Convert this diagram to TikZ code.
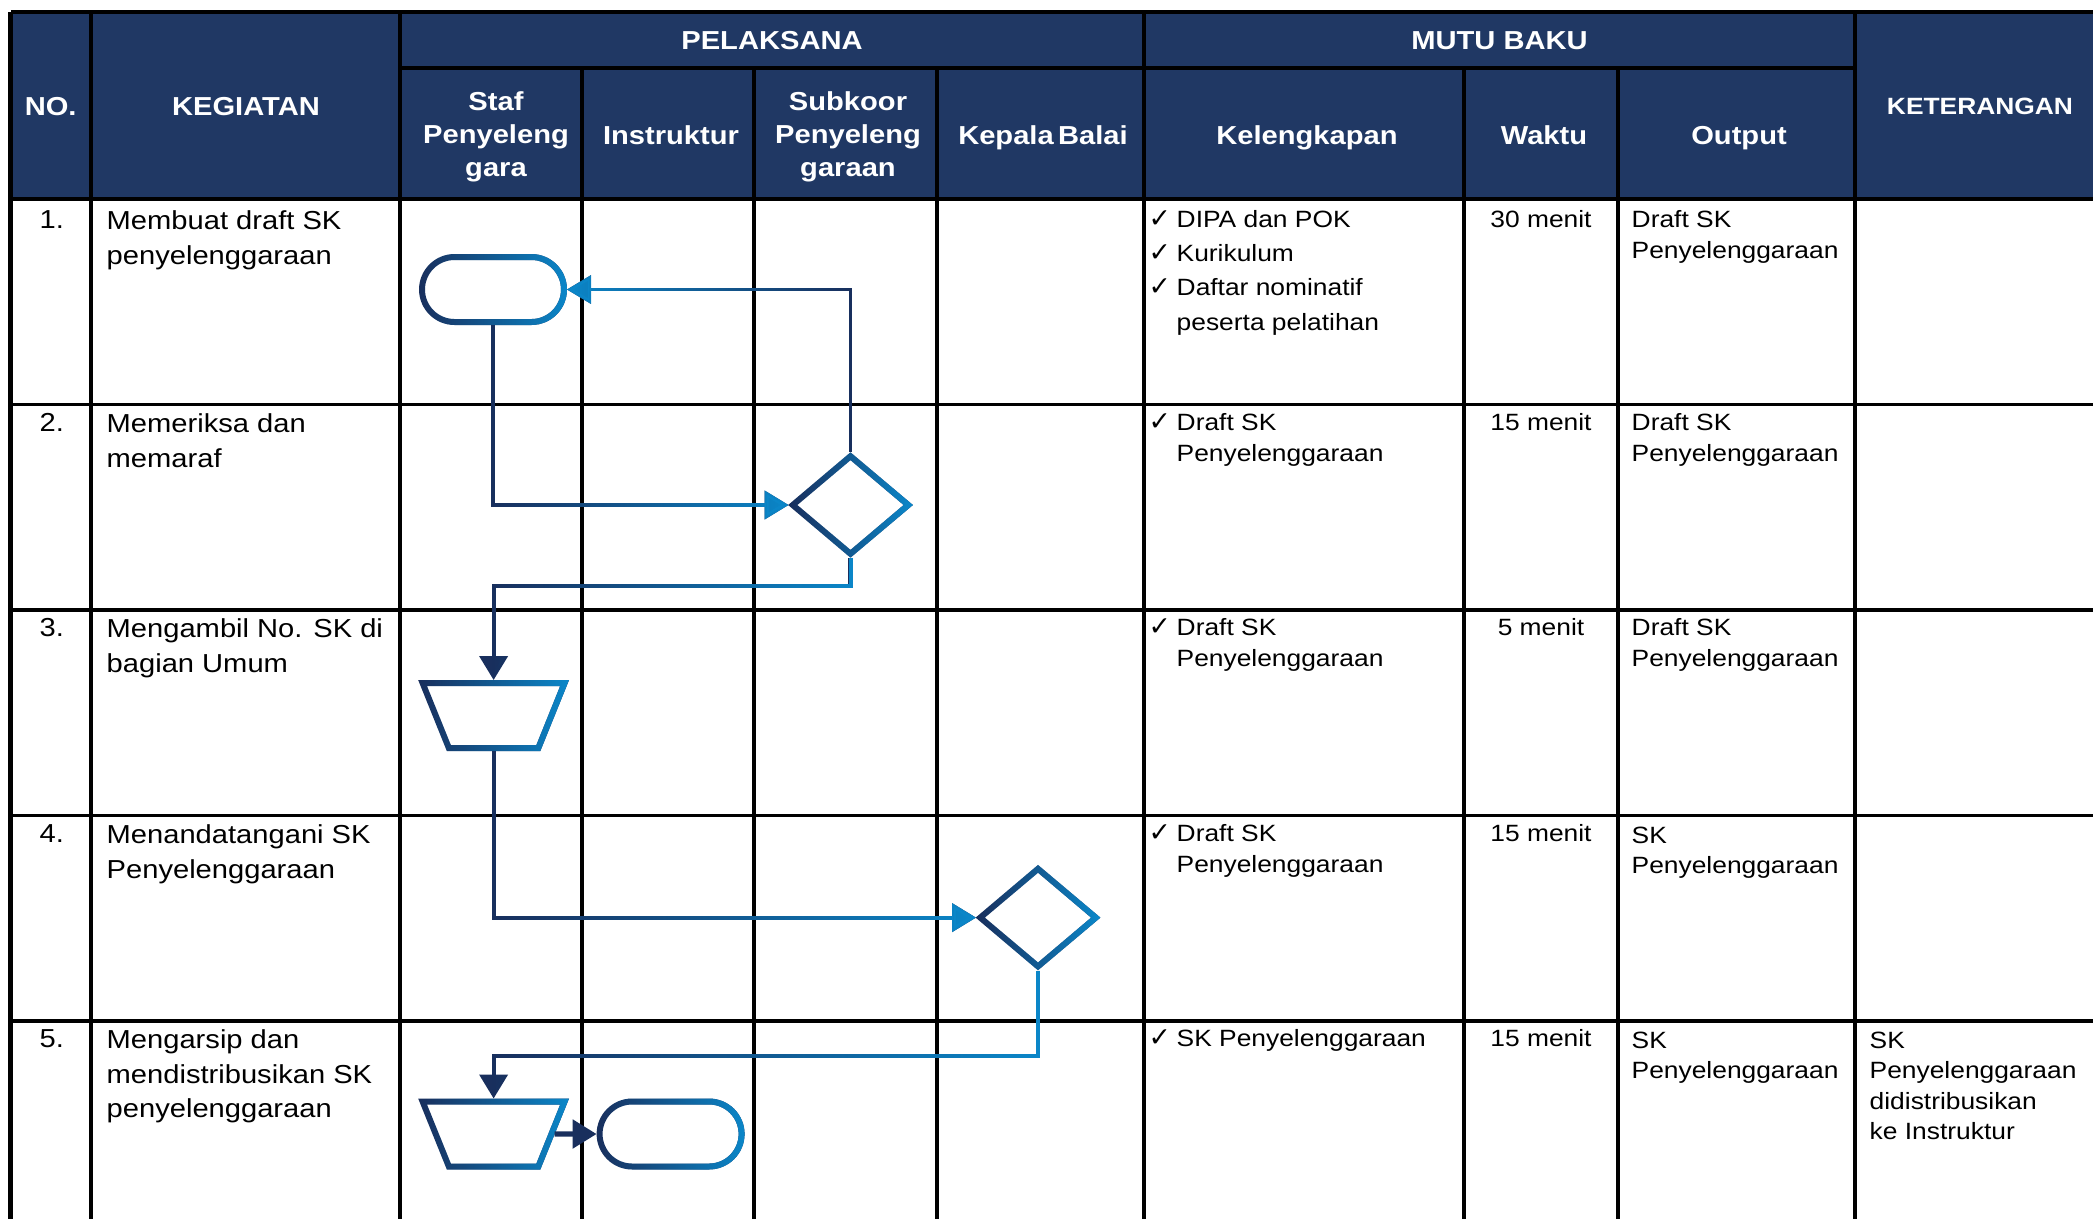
\documentclass[tikz,border=0pt]{standalone}
\usepackage{fontspec}
\setmainfont{Liberation Sans}[FakeStretch=1.12]
\newfontfamily\chkfont{DejaVu Sans}
\usepackage{xcolor}
\usepackage{tikz}
\usetikzlibrary{arrows.meta,positioning,calc,shapes.geometric,shapes.misc,fadings}
\definecolor{HeadBlue}{HTML}{203864}
\definecolor{FlowDark}{HTML}{192F5D}
\definecolor{FlowLight}{HTML}{0B87C9}
\tikzfading[name=tolight,left color=transparent!100,right color=transparent!0]
\tikzfading[name=todark,left color=transparent!0,right color=transparent!100]
\newcommand{\cek}{\makebox[2.8mm][l]{\chkfont\fontsize{7.6}{8}\selectfont ✓}}

\begin{document}
\begin{tikzpicture}[x=0.1mm,y=-0.1mm,>=Latex,
  grid/.style={black,line width=1pt},
  headtxt/.style={text=white,font=\bfseries\fontsize{7.4}{9.4}\selectfont,align=center,inner sep=0pt},
  kegtxt/.style={anchor=north west,font=\fontsize{7.4}{9.8}\selectfont,align=left,inner sep=0pt},
  mututxt/.style={anchor=north west,font=\fontsize{6.7}{8.8}\selectfont,align=left,inner sep=0pt},
  flowbase/.style={draw=FlowDark,line width=1.15pt,-{Triangle[length=2.4mm,width=2.8mm]}},
  flowline/.style={flowbase,postaction={draw=FlowLight,path fading=tolight}},
  flowback/.style={flowbase,line width=0.9pt,postaction={draw=FlowLight,path fading=todark}},
  flowbox/.style={draw=FlowDark,line width=1.7pt,inner sep=0pt,postaction={draw=FlowLight,path fading=tolight}},
  terminal/.style={flowbox,rounded rectangle,minimum width=14.2mm,minimum height=6.5mm},
  decision/.style={flowbox,diamond,minimum width=11.8mm,minimum height=10mm},
  manual/.style={flowbox,trapezium,shape border rotate=180,trapezium angle=68,text width=8.95mm,text height=6.5mm,text depth=0pt}]
  \useasboundingbox (0,0) rectangle (2093,1219);

  % header band
  \fill[HeadBlue] (10.7,12) rectangle (2093,199);

  % table rules
  \draw[grid,line width=1.3pt] (10.7,12) -- (2093,12);
  \draw[grid] (400,68) -- (1855,68);
  \draw[grid] (10.7,199) -- (2093,199);
  \draw[grid] (10.7,404.5) -- (2093,404.5);
  \draw[grid] (10.7,610) -- (2093,610);
  \draw[grid] (10.7,815.5) -- (2093,815.5);
  \draw[grid] (10.7,1021) -- (2093,1021);
  \draw[grid,line width=1.3pt] (10.7,12) -- (10.7,1219);
  \draw[grid] (90.8,12) -- (90.8,1219);
  \draw[grid] (400,12) -- (400,1219);
  \draw[grid] (582,68) -- (582,1219);
  \draw[grid] (754,68) -- (754,1219);
  \draw[grid] (937,68) -- (937,1219);
  \draw[grid] (1144,12) -- (1144,1219);
  \draw[grid] (1464,68) -- (1464,1219);
  \draw[grid] (1618,68) -- (1618,1219);
  \draw[grid] (1855,12) -- (1855,1219);

  % header texts
  \node[headtxt,anchor=base] (hno) at (50.7,115) {NO.};
  \node[headtxt,anchor=base] (hkeg) at (246,115) {KEGIATAN};
  \node[headtxt,anchor=base] (hpel) at (772,49.5) {PELAKSANA};
  \node[headtxt,anchor=base] (hmutu) at (1499.5,49.5) {MUTU BAKU};
  \node[headtxt,anchor=base,font=\bfseries\fontsize{6.7}{8}\selectfont] (hket) at (1980,114) {KETERANGAN};
  \node[headtxt] (hstaf) at (496,137) {Staf\\Penyeleng\\gara};
  \node[headtxt,anchor=base] (hins) at (671,144) {Instruktur};
  \node[headtxt] (hsub) at (848,137) {Subkoor\\Penyeleng\\garaan};
  \node[headtxt,anchor=base] (hkep) at (1043,144) {Kepala\,Balai};
  \node[headtxt,anchor=base] (hkel) at (1307,144) {Kelengkapan};
  \node[headtxt,anchor=base] (hwkt) at (1544,144) {Waktu};
  \node[headtxt,anchor=base] (hout) at (1739,144) {Output};

  % row 1
  \node[kegtxt] (no1) at (39,210) {1.};
  \node[kegtxt] (keg1) at (106,210) {Membuat draft SK\\penyelenggaraan};
  \node[mututxt,font=\fontsize{6.7}{9.7}\selectfont] (kel1) at (1148,210) {\cek DIPA dan POK\\\cek Kurikulum\\\cek Daftar nominatif\\\hspace*{2.8mm}peserta pelatihan};
  \node[mututxt,anchor=north] (wkt1) at (1541,210) {30 menit};
  \node[mututxt,font=\fontsize{6.7}{8.7}\selectfont] (out1) at (1631,210) {Draft SK\\Penyelenggaraan};

  % row 2
  \node[kegtxt] (no2) at (39,413) {2.};
  \node[kegtxt] (keg2) at (106,413) {Memeriksa dan\\memaraf};
  \node[mututxt] (kel2) at (1148,413) {\cek Draft SK\\\hspace*{2.8mm}Penyelenggaraan};
  \node[mututxt,anchor=north] (wkt2) at (1541,413) {15 menit};
  \node[mututxt,font=\fontsize{6.7}{8.7}\selectfont] (out2) at (1631,413) {Draft SK\\Penyelenggaraan};

  % row 3
  \node[kegtxt] (no3) at (39,618) {3.};
  \node[kegtxt] (keg3) at (106,618) {Mengambil No. SK di\\bagian Umum};
  \node[mututxt] (kel3) at (1148,618) {\cek Draft SK\\\hspace*{2.8mm}Penyelenggaraan};
  \node[mututxt,anchor=north] (wkt3) at (1541,618) {5 menit};
  \node[mututxt,font=\fontsize{6.7}{8.7}\selectfont] (out3) at (1631,618) {Draft SK\\Penyelenggaraan};

  % row 4
  \node[kegtxt] (no4) at (39,824) {4.};
  \node[kegtxt] (keg4) at (106,824) {Menandatangani SK\\Penyelenggaraan};
  \node[mututxt] (kel4) at (1148,824) {\cek Draft SK\\\hspace*{2.8mm}Penyelenggaraan};
  \node[mututxt,anchor=north] (wkt4) at (1541,824) {15 menit};
  \node[mututxt,font=\fontsize{6.7}{8.7}\selectfont] (out4) at (1631,826) {SK\\Penyelenggaraan};

  % row 5
  \node[kegtxt] (no5) at (39,1029) {5.};
  \node[kegtxt] (keg5) at (106,1029) {Mengarsip dan\\mendistribusikan SK\\penyelenggaraan};
  \node[mututxt] (kel5) at (1148,1029) {\cek SK Penyelenggaraan};
  \node[mututxt,anchor=north] (wkt5) at (1541,1029) {15 menit};
  \node[mututxt,font=\fontsize{6.7}{8.7}\selectfont] (out5) at (1631,1031) {SK\\Penyelenggaraan};
  \node[mututxt,font=\fontsize{6.7}{8.7}\selectfont] (ket5) at (1869,1031) {SK\\Penyelenggaraan\\didistribusikan\\ke Instruktur};

  % flow shapes
  \node[terminal] (t1) at (493,289.5) {};
  \node[decision] (d1) at (850.5,505) {};
  \node[manual] (m1) at (493.6,715.5) {};
  \node[decision] (d2) at (1038,917.6) {};
  \node[manual] (m2) at (493.6,1134) {};
  \node[terminal] (t2) at (670.6,1134) {};

  % flow connectors
  \draw[flowback] (d1.north) |- (t1.east);
  \draw[flowline] (t1.south) |- (d1.west);
  \draw[flowline] (d1.south) -- ++(0,28) -| (m1.north);
  \draw[flowline] (m1.south) |- (d2.west);
  \draw[flowline] (d2.south) -- ++(0,85) -| (m2.north);
  \draw[flowbase,line width=1.5pt] (m2) -- (t2);
\end{tikzpicture}
\end{document}
